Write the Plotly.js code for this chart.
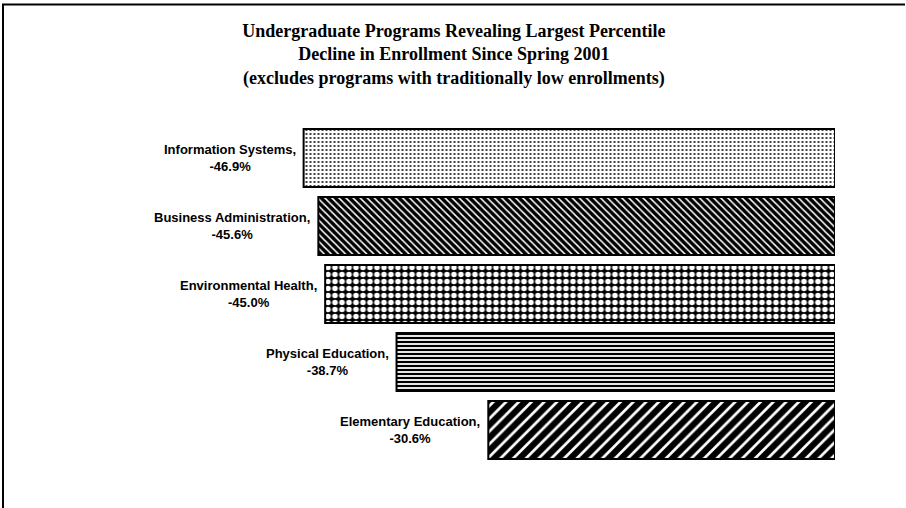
<!DOCTYPE html>
<html>
<head>
<meta charset="utf-8">
<script src="https://cdn.plot.ly/plotly-3.0.1.min.js"></script>
<style>html,body{margin:0;padding:0;background:#fff;}#chart{width:906px;height:508px;}</style>
</head>
<body>
<div id="chart"></div>
<script>
var programs = ["Information Systems", "Business Administration", "Environmental Health", "Physical Education", "Elementary Education"];
var changes = [-46.9, -45.6, -45.0, -38.7, -30.6];
var patternShapes = [".", "\\", ".", "-", "/"];
var patternFg = ["black", "black", "white", "black", "black"];
var patternBg = ["white", "white", "black", "white", "white"];
var patternSize = [4, 5, 7, 4, 9];
var patternSolidity = [0.2, 0.7, 0.5, 0.55, 0.7];

var traces = programs.map(function (p, i) {
  return {
    type: "bar",
    orientation: "h",
    x: [changes[i]],
    y: [p],
    marker: {
      color: patternBg[i],
      line: {color: "black", width: 2},
      pattern: {shape: patternShapes[i], fgcolor: patternFg[i], bgcolor: patternBg[i], fgopacity: 1, size: patternSize[i], solidity: patternSolidity[i], fillmode: "overlay"}
    },
    hoverinfo: "x+y",
    showlegend: false
  };
});

var annotations = programs.map(function (p, i) {
  return {
    x: changes[i], y: p, xref: "x", yref: "y",
    xanchor: "right", yanchor: "middle", xshift: -6,
    text: p + ",<br>" + changes[i].toFixed(1) + "%",
    align: "center", showarrow: false,
    font: {family: "Liberation Sans, Arial, sans-serif", size: 13, color: "black", weight: "bold"}
  };
});

var layout = {
  width: 906, height: 508,
  margin: {l: 0, r: 0, t: 0, b: 0},
  paper_bgcolor: "white", plot_bgcolor: "white",
  title: {
    text: "Undergraduate Programs Revealing Largest Percentile<br>Decline in Enrollment Since Spring 2001<br>(excludes programs with traditionally low enrollments)",
    font: {family: "Liberation Serif, Times New Roman, serif", size: 18, color: "black", weight: "bold"},
    x: 0.501, xref: "paper", xanchor: "center",
    y: 1 - 37 / 508, yref: "paper", yanchor: "top"
  },
  barmode: "overlay",
  bargap: 0.147,
  xaxis: {range: [-50, 0], domain: [268.5 / 906, 835 / 906], visible: false, fixedrange: true},
  yaxis: {type: "category", categoryorder: "array", categoryarray: programs, autorange: "reversed",
          domain: [1 - 464 / 508, 1 - 124 / 508], visible: false, fixedrange: true},
  annotations: annotations,
  shapes: [
    {type: "line", xref: "paper", yref: "paper", x0: 2 / 906, x1: 905 / 906, y0: 1 - 4.5 / 508, y1: 1 - 4.5 / 508, line: {color: "black", width: 2}},
    {type: "line", xref: "paper", yref: "paper", x0: 3 / 906, x1: 3 / 906, y0: 1 - 4 / 508, y1: 0, line: {color: "black", width: 2}}
  ]
};

Plotly.newPlot("chart", traces, layout, {displayModeBar: false, staticPlot: true});
</script>
</body>
</html>
